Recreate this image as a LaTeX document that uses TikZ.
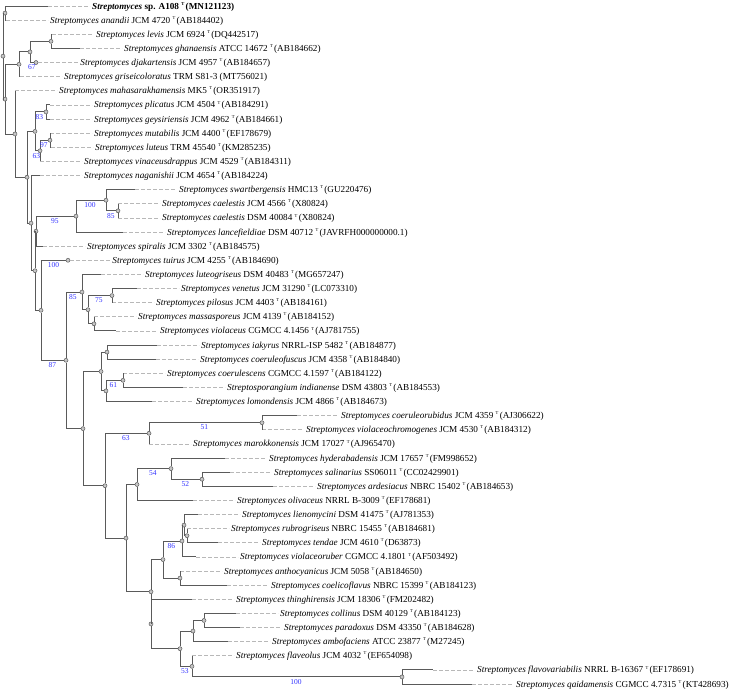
\documentclass[tikz,border=0pt]{standalone}
\usepackage{fontspec}
\setmainfont{Liberation Serif}
\usetikzlibrary{positioning}

\definecolor{brgray}{HTML}{5A5A5A}
\definecolor{dashgray}{HTML}{B8B8B8}
\definecolor{bootblue}{HTML}{3333FF}
\newcommand{\strep}[1]{\textit{Streptomyces #1}}
\newcommand{\typ}{\textsuperscript{\fontsize{4.5}{4.5}\selectfont T}\kern0.8pt}

\begin{document}
\begin{tikzpicture}[x=1pt,y=-14.125pt,
  branch/.style={draw=brgray,line width=0.9pt},
  elbow/.style={to path={|- (\tikztotarget) \tikztonodes}},
  leader/.style={draw=dashgray,line width=0.7pt,dash pattern=on 3.5pt off 2.5pt},
  bnode/.style={circle,draw=brgray,fill=gray!45,line width=0.5pt,inner sep=0pt,minimum size=4pt},
  taxon/.style={inner xsep=2pt,inner ysep=0pt,text height=8pt,text depth=2pt,font=\fontsize{9.2}{11}\selectfont},
  boot/.style={pos=0.75,below,inner sep=1.8pt,text=bootblue,font=\fontsize{7.5}{8}\selectfont}]
\useasboundingbox (0,0.5752) rectangle (734,49.425);

% internal nodes
\node[bnode] (nN1) at (3,4.55) {};
\node[bnode] (nA) at (5,1.5) {};
\node[bnode] (nN2) at (5,7.59) {};
\node[bnode] (nC) at (19,5.125) {};
\node[bnode] (nD) at (30,4.25) {};
\node[bnode] (nE) at (51,3.5) {};
\node[bnode] (nN3) at (15,10.06) {};
\node[bnode] (nN4) at (27,13.12) {};
\node[bnode] (nT) at (35,9.875) {};
\node[bnode] (nP) at (46,8.5) {};
\node[bnode] (nS) at (40,11.25) {};
\node[bnode] (nQ) at (50,10.5) {};
\node[bnode] (nV) at (31,16.37) {};
\node[bnode] (nN6) at (35,19.74) {};
\node[bnode] (nW) at (36,16.94) {};
\node[bnode] (nX) at (76,15.875) {};
\node[bnode] (nY) at (106,14.75) {};
\node[bnode] (nZ) at (118,15.5) {};
\node[bnode] (nM) at (41,22.54) {};
\node[bnode] (nK) at (66,26.08) {};
\node[bnode] (nE2) at (82,21.25) {};
\node[bnode] (nF) at (88,22.5) {};
\node[bnode] (nG) at (112,21.5) {};
\node[bnode] (nH) at (94,23.5) {};
\node[bnode] (nL) at (83,30.92) {};
\node[bnode] (nI) at (101,26.875) {};
\node[bnode] (nI1) at (107,25.5) {};
\node[bnode] (nI2) at (106,28.25) {};
\node[bnode] (nI3) at (123,27.5) {};
\node[bnode] (nU) at (105,34.96) {};
\node[bnode] (nJ) at (149,31.25) {};
\node[bnode] (nJ1) at (262,30.5) {};
\node[bnode] (nQ1) at (126,38.67) {};
\node[bnode] (nO1) at (137,34.875) {};
\node[bnode] (nO2) at (171,33.75) {};
\node[bnode] (nO3) at (202,34.5) {};
\node[bnode] (nQ2) at (151,42.47) {};
\node[bnode] (nR1) at (163,40.19) {};
\node[bnode] (nR4) at (182,38.875) {};
\node[bnode] (nR6) at (184,37.75) {};
\node[bnode] (nR7) at (187,38.5) {};
\node[bnode] (nR5) at (180,41.5) {};
\node[bnode] (nR2) at (151,44.75) {};
\node[bnode] (nR3) at (180,46.5) {};
\node[bnode] (nR8) at (193,45.25) {};
\node[bnode] (nR10) at (204,44.5) {};
\node[bnode] (nR9) at (192,47.75) {};
\node[bnode] (nR11) at (402,48.5) {};

% leaves
\coordinate (a108) at (48,1);
\node[taxon] [right=42pt of a108] (a108-l) {\textbf{\textit{Streptomyces} sp. A108 \typ(MN121123)}};
\coordinate (anan) at (6,2);
\node[taxon] [right=42pt of anan] (anan-l) {\strep{anandii} JCM 4720 \typ(AB184402)};
\coordinate (levi) at (52,3);
\node[taxon] [right=42pt of levi] (levi-l) {\strep{levis} JCM 6924 \typ(DQ442517)};
\coordinate (ghan) at (80,4);
\node[taxon] [right=42pt of ghan] (ghan-l) {\strep{ghanaensis} ATCC 14672 \typ(AB184662)};
\node[bnode] (djak) at (36,5) {};
\node[taxon] [right=40pt of djak] (djak-l) {\strep{djakartensis} JCM 4957 \typ(AB184657)};
\coordinate (gris) at (20,6);
\node[taxon] [right=42pt of gris] (gris-l) {\strep{griseicoloratus} TRM S81-3 (MT756021)};
\coordinate (maha) at (15,7);
\node[taxon] [right=42pt of maha] (maha-l) {\strep{mahasarakhamensis} MK5 \typ(OR351917)};
\coordinate (plic) at (50,8);
\node[taxon] [right=42pt of plic] (plic-l) {\strep{plicatus} JCM 4504 \typ(AB184291)};
\coordinate (geys) at (50,9);
\node[taxon] [right=42pt of geys] (geys-l) {\strep{geysiriensis} JCM 4962 \typ(AB184661)};
\coordinate (muta) at (50,10);
\node[taxon] [right=42pt of muta] (muta-l) {\strep{mutabilis} JCM 4400 \typ(EF178679)};
\coordinate (lute) at (51,11);
\node[taxon] [right=42pt of lute] (lute-l) {\strep{luteus} TRM 45540 \typ(KM285235)};
\coordinate (vina) at (40,12);
\node[taxon] [right=42pt of vina] (vina-l) {\strep{vinaceusdrappus} JCM 4529 \typ(AB184311)};
\coordinate (naga) at (40,13);
\node[taxon] [right=42pt of naga] (naga-l) {\strep{naganishii} JCM 4654 \typ(AB184224)};
\coordinate (swar) at (135,14);
\node[taxon] [right=42pt of swar] (swar-l) {\strep{swartbergensis} HMC13 \typ(GU220476)};
\coordinate (cae1) at (118,15);
\node[taxon] [right=42pt of cae1] (cae1-l) {\strep{caelestis} JCM 4566 \typ(X80824)};
\coordinate (cae2) at (118,16);
\node[taxon] [right=42pt of cae2] (cae2-l) {\strep{caelestis} DSM 40084 \typ(X80824)};
\coordinate (lanc) at (123,17);
\node[taxon] [right=42pt of lanc] (lanc-l) {\strep{lancefieldiae} DSM 40712 \typ(JAVRFH000000000.1)};
\coordinate (spir) at (43,18);
\node[taxon] [right=42pt of spir] (spir-l) {\strep{spiralis} JCM 3302 \typ(AB184575)};
\node[bnode] (tuir) at (68,19) {};
\node[taxon] [right=40pt of tuir] (tuir-l) {\strep{tuirus} JCM 4255 \typ(AB184690)};
\coordinate (lugr) at (101,20);
\node[taxon] [right=42pt of lugr] (lugr-l) {\strep{luteogriseus} DSM 40483 \typ(MG657247)};
\coordinate (vene) at (137,21);
\node[taxon] [right=42pt of vene] (vene-l) {\strep{venetus} JCM 31290 \typ(LC073310)};
\coordinate (pilo) at (112,22);
\node[taxon] [right=42pt of pilo] (pilo-l) {\strep{pilosus} JCM 4403 \typ(AB184161)};
\coordinate (mass) at (94,23);
\node[taxon] [right=42pt of mass] (mass-l) {\strep{massasporeus} JCM 4139 \typ(AB184152)};
\coordinate (viol) at (116,24);
\node[taxon] [right=42pt of viol] (viol-l) {\strep{violaceus} CGMCC 4.1456 \typ(AJ781755)};
\coordinate (iaky) at (157,25);
\node[taxon] [right=42pt of iaky] (iaky-l) {\strep{iakyrus} NRRL-ISP 5482 \typ(AB184877)};
\coordinate (cofu) at (156,26);
\node[taxon] [right=42pt of cofu] (cofu-l) {\strep{coeruleofuscus} JCM 4358 \typ(AB184840)};
\coordinate (cosc) at (123,27);
\node[taxon] [right=42pt of cosc] (cosc-l) {\strep{coerulescens} CGMCC 4.1597 \typ(AB184122)};
\coordinate (indi) at (183,28);
\node[taxon] [right=42pt of indi] (indi-l) {\textit{Streptosporangium indianense} DSM 43803 \typ(AB184553)};
\coordinate (lomo) at (152,29);
\node[taxon] [right=42pt of lomo] (lomo-l) {\strep{lomondensis} JCM 4866 \typ(AB184673)};
\coordinate (corb) at (297,30);
\node[taxon] [right=42pt of corb] (corb-l) {\strep{coeruleorubidus} JCM 4359 \typ(AJ306622)};
\coordinate (vich) at (262,31);
\node[taxon] [right=42pt of vich] (vich-l) {\strep{violaceochromogenes} JCM 4530 \typ(AB184312)};
\coordinate (maro) at (149,32);
\node[taxon] [right=42pt of maro] (maro-l) {\strep{marokkonensis} JCM 17027 \typ(AJ965470)};
\coordinate (hyde) at (225,33);
\node[taxon] [right=42pt of hyde] (hyde-l) {\strep{hyderabadensis} JCM 17657 \typ(FM998652)};
\coordinate (sali) at (230,34);
\node[taxon] [right=42pt of sali] (sali-l) {\strep{salinarius} SS06011 \typ(CC02429901)};
\coordinate (arde) at (273,35);
\node[taxon] [right=42pt of arde] (arde-l) {\strep{ardesiacus} NBRC 15402 \typ(AB184653)};
\coordinate (oliv) at (193,36);
\node[taxon] [right=42pt of oliv] (oliv-l) {\strep{olivaceus} NRRL B-3009 \typ(EF178681)};
\coordinate (lien) at (198,37);
\node[taxon] [right=42pt of lien] (lien-l) {\strep{lienomycini} DSM 41475 \typ(AJ781353)};
\coordinate (rubr) at (187,38);
\node[taxon] [right=42pt of rubr] (rubr-l) {\strep{rubrogriseus} NBRC 15455 \typ(AB184681)};
\coordinate (tend) at (218,39);
\node[taxon] [right=42pt of tend] (tend-l) {\strep{tendae} JCM 4610 \typ(D63873)};
\coordinate (vior) at (196,40);
\node[taxon] [right=42pt of vior] (vior-l) {\strep{violaceoruber} CGMCC 4.1801 \typ(AF503492)};
\coordinate (anth) at (180,41);
\node[taxon] [right=42pt of anth] (anth-l) {\strep{anthocyanicus} JCM 5058 \typ(AB184650)};
\coordinate (coel) at (227,42);
\node[taxon] [right=42pt of coel] (coel-l) {\strep{coelicoflavus} NBRC 15399 \typ(AB184123)};
\coordinate (thin) at (192,43);
\node[taxon] [right=42pt of thin] (thin-l) {\strep{thinghirensis} JCM 18306 \typ(FM202482)};
\coordinate (coll) at (236,44);
\node[taxon] [right=42pt of coll] (coll-l) {\strep{collinus} DSM 40129 \typ(AB184123)};
\coordinate (para) at (240,45);
\node[taxon] [right=42pt of para] (para-l) {\strep{paradoxus} DSM 43350 \typ(AB184628)};
\coordinate (ambo) at (228,46);
\node[taxon] [right=42pt of ambo] (ambo-l) {\strep{ambofaciens} ATCC 23877 \typ(M27245)};
\coordinate (flav) at (192,47);
\node[taxon] [right=42pt of flav] (flav-l) {\strep{flaveolus} JCM 4032 \typ(EF654098)};
\coordinate (flvv) at (433,48);
\node[taxon] [right=42pt of flvv] (flvv-l) {\strep{flavovariabilis} NRRL B-16367 \typ(EF178691)};
\coordinate (qaid) at (472,49);
\node[taxon] [right=42pt of qaid] (qaid-l) {\strep{qaidamensis} CGMCC 4.7315 \typ(KT428693)};

% dashed leaders
\path[leader] (a108) edge (a108-l) (anan) edge (anan-l) (levi) edge (levi-l)
  (ghan) edge (ghan-l) (djak) edge (djak-l) (gris) edge (gris-l) (maha) edge (maha-l)
  (plic) edge (plic-l) (geys) edge (geys-l) (muta) edge (muta-l) (lute) edge (lute-l)
  (vina) edge (vina-l) (naga) edge (naga-l) (swar) edge (swar-l) (cae1) edge (cae1-l)
  (cae2) edge (cae2-l) (lanc) edge (lanc-l) (spir) edge (spir-l) (tuir) edge (tuir-l)
  (lugr) edge (lugr-l) (vene) edge (vene-l) (pilo) edge (pilo-l) (mass) edge (mass-l)
  (viol) edge (viol-l) (iaky) edge (iaky-l) (cofu) edge (cofu-l) (cosc) edge (cosc-l)
  (indi) edge (indi-l) (lomo) edge (lomo-l) (corb) edge (corb-l) (vich) edge (vich-l)
  (maro) edge (maro-l) (hyde) edge (hyde-l) (sali) edge (sali-l) (arde) edge (arde-l)
  (oliv) edge (oliv-l) (lien) edge (lien-l) (rubr) edge (rubr-l) (tend) edge (tend-l)
  (vior) edge (vior-l) (anth) edge (anth-l) (coel) edge (coel-l) (thin) edge (thin-l)
  (coll) edge (coll-l) (para) edge (para-l) (ambo) edge (ambo-l) (flav) edge (flav-l)
  (flvv) edge (flvv-l) (qaid) edge (qaid-l);

% branches
\path[branch]
(nN1) edge[elbow] (nA) (nN1) edge[elbow] (nN2)
(nA) edge[elbow] (a108) (nA) edge[elbow] (anan)
(nN2) edge[elbow] (nC) (nN2) edge[elbow] (nN3)
(nC) edge[elbow] (nD) (nC) edge[elbow] (gris)
(nD) edge[elbow] (nE) (nD) edge[elbow] node[boot]{67} (djak)
(nE) edge[elbow] (levi) (nE) edge[elbow] (ghan)
(nN3) edge[elbow] (maha) (nN3) edge[elbow] (nN4)
(nN4) edge[elbow] (nT) (nN4) edge[elbow] (nV)
(nT) edge[elbow] node[boot]{83} (nP) (nT) edge[elbow] node[boot]{63} (nS)
(nP) edge[elbow] (plic) (nP) edge[elbow] (geys)
(nS) edge[elbow] node[boot]{97} (nQ) (nS) edge[elbow] (vina)
(nQ) edge[elbow] (muta) (nQ) edge[elbow] (lute)
(nV) edge[elbow] (naga) (nV) edge[elbow] (nN6)
(nN6) edge[elbow] (nW) (nN6) edge[elbow] (nM)
(nW) edge[elbow] node[boot]{95} (nX) (nW) edge[elbow] (spir)
(nX) edge[elbow] node[boot]{100} (nY) (nX) edge[elbow] (lanc)
(nY) edge[elbow] (swar) (nY) edge[elbow] node[boot]{85} (nZ)
(nZ) edge[elbow] (cae1) (nZ) edge[elbow] (cae2)
(nM) edge[elbow] node[boot]{100} (tuir) (nM) edge[elbow] node[boot]{87} (nK)
(nK) edge[elbow] node[boot]{85} (nE2) (nK) edge[elbow] (nL)
(nE2) edge[elbow] (lugr) (nE2) edge[elbow] (nF)
(nF) edge[elbow] node[boot]{75} (nG) (nF) edge[elbow] (nH)
(nG) edge[elbow] (vene) (nG) edge[elbow] (pilo)
(nH) edge[elbow] (mass) (nH) edge[elbow] (viol)
(nL) edge[elbow] (nI) (nL) edge[elbow] (nU)
(nI) edge[elbow] (nI1) (nI) edge[elbow] (nI2)
(nI1) edge[elbow] (iaky) (nI1) edge[elbow] (cofu)
(nI2) edge[elbow] node[boot]{61} (nI3) (nI2) edge[elbow] (lomo)
(nI3) edge[elbow] (cosc) (nI3) edge[elbow] (indi)
(nU) edge[elbow] node[boot]{63} (nJ) (nU) edge[elbow] (nQ1)
(nJ) edge[elbow] node[boot]{51} (nJ1) (nJ) edge[elbow] (maro)
(nJ1) edge[elbow] (corb) (nJ1) edge[elbow] (vich)
(nQ1) edge[elbow] (nO1) (nQ1) edge[elbow] (nQ2)
(nO1) edge[elbow] node[boot]{54} (nO2) (nO1) edge[elbow] (oliv)
(nO2) edge[elbow] (hyde) (nO2) edge[elbow] node[boot]{52} (nO3)
(nO3) edge[elbow] (sali) (nO3) edge[elbow] (arde)
(nQ2) edge[elbow] (nR1) (nQ2) edge[elbow] (nR2)
(nR1) edge[elbow] node[boot]{86} (nR4) (nR1) edge[elbow] (nR5)
(nR4) edge[elbow] (nR6) (nR4) edge[elbow] (vior)
(nR6) edge[elbow] (lien) (nR6) edge[elbow] (nR7)
(nR7) edge[elbow] (rubr) (nR7) edge[elbow] (tend)
(nR5) edge[elbow] (anth) (nR5) edge[elbow] (coel)
(nR2) edge[elbow] (thin) (nR2) edge[elbow] (nR3)
(nR3) edge[elbow] (nR8) (nR3) edge[elbow] node[boot]{53} (nR9)
(nR8) edge[elbow] (nR10) (nR8) edge[elbow] (ambo)
(nR10) edge[elbow] (coll) (nR10) edge[elbow] (para)
(nR9) edge[elbow] (flav) (nR9) edge[elbow] node[boot]{100} (nR11)
(nR11) edge[elbow] (flvv) (nR11) edge[elbow] (qaid);
\end{tikzpicture}
\end{document}
